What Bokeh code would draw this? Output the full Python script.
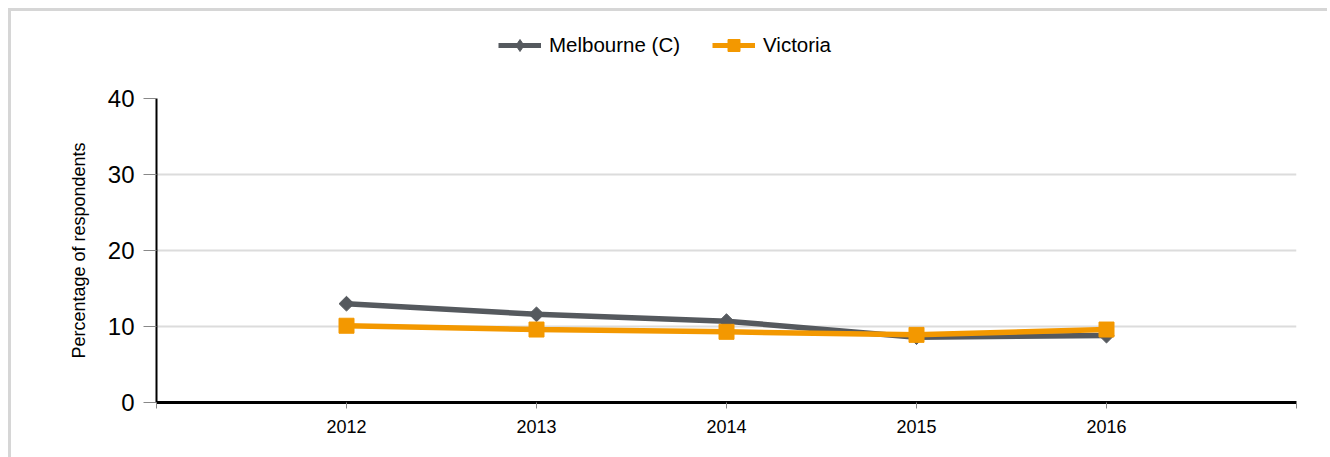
import math
from bokeh.plotting import figure
from bokeh.layouts import column
from bokeh.models import Legend, LegendItem, FixedTicker, ColumnDataSource
from bokeh.embed import file_html
from bokeh.resources import INLINE

years = [2012, 2013, 2014, 2015, 2016]
melbourne = [13.0, 11.6, 10.7, 8.6, 8.8]
victoria = [10.1, 9.6, 9.3, 8.9, 9.6]
y_ticks = [0, 10, 20, 30, 40]
x_ticks = [2011, 2012, 2013, 2014, 2015, 2016, 2017]

GREY = "#55595e"
ORANGE = "#f39800"
FONT = "Liberation Sans"
BORDER = "3px solid #d6d6d6"

src = ColumnDataSource(dict(x=years, m=melbourne, v=victoria))

# ---- legend strip (its own canvas, so the legend is not clipped) ----
lg = figure(width=1319, height=69, output_backend="svg", toolbar_location=None,
            x_range=(0, 1), y_range=(0, 1), x_axis_type=None, y_axis_type=None,
            min_border_left=0, min_border_right=0, min_border_top=0, min_border_bottom=0)
lg.styles = {"border-top": BORDER, "border-left": BORDER}
lg.outline_line_color = None
lg.grid.visible = False
g_lm = lg.line("x", "m", source=src, line_color=GREY, line_width=5)
g_sm = lg.scatter("x", "m", source=src, marker="diamond", size=12, fill_color=GREY, line_color=GREY)
g_lv = lg.line("x", "v", source=src, line_color=ORANGE, line_width=5)
g_sv = lg.scatter("x", "v", source=src, marker="square", size=12, fill_color=ORANGE, line_color=ORANGE)
legend = Legend(items=[LegendItem(label="Melbourne (C)", renderers=[g_lm, g_sm]),
                       LegendItem(label="Victoria", renderers=[g_lv, g_sv])],
                orientation="horizontal", location=(342, 20),
                label_text_font=FONT, label_text_font_size="20.5px",
                label_text_color="black", glyph_width=43, glyph_height=30,
                label_standoff=8, spacing=32, border_line_color=None,
                background_fill_alpha=0, padding=2, margin=0)
lg.add_layout(legend, "center")

# ---- main chart ----
p = figure(width=1319, height=380, output_backend="svg", toolbar_location=None,
           x_range=(2011, 2017), y_range=(0, 40),
           min_border_left=145, min_border_right=34, min_border_top=21, min_border_bottom=55)
p.styles = {"border-left": BORDER}
p.outline_line_color = None
p.background_fill_color = "white"

lm = p.line("x", "m", source=src, line_color=GREY, line_width=5.5)
sm = p.scatter("x", "m", source=src, marker="square", angle=math.pi / 4, size=10.5,
               fill_color=GREY, line_color=GREY)
lv = p.line("x", "v", source=src, line_color=ORANGE, line_width=5.5)
sv = p.scatter("x", "v", source=src, marker="square", size=15, fill_color=ORANGE, line_color=ORANGE)

p.xgrid.grid_line_color = None
p.ygrid.grid_line_color = "#dcdcdc"
p.ygrid.grid_line_width = 2
p.ygrid.ticker = FixedTicker(ticks=y_ticks)

p.yaxis.ticker = FixedTicker(ticks=y_ticks)
p.yaxis.axis_line_color = "black"
p.yaxis.axis_line_width = 2
p.yaxis.major_tick_line_color = "#888888"
p.yaxis.major_tick_out = 13
p.yaxis.major_tick_in = 0
p.yaxis.minor_tick_line_color = None
p.yaxis.major_label_text_font = FONT
p.yaxis.major_label_text_font_size = "24px"
p.yaxis.major_label_text_color = "black"
p.yaxis.major_label_standoff = 9
p.yaxis.axis_label = "Percentage of respondents"
p.yaxis.axis_label_text_font = FONT
p.yaxis.axis_label_text_font_size = "18px"
p.yaxis.axis_label_text_font_style = "normal"
p.yaxis.axis_label_text_color = "black"
p.yaxis.axis_label_standoff = 16

p.xaxis.ticker = FixedTicker(ticks=x_ticks)
p.xaxis.major_label_overrides = {2011: "", 2017: ""}
p.xaxis.axis_line_color = "black"
p.xaxis.axis_line_width = 3
p.xaxis.major_tick_line_color = "#888888"
p.xaxis.major_tick_out = 6
p.xaxis.major_tick_in = 0
p.xaxis.minor_tick_line_color = None
p.xaxis.major_label_text_font = FONT
p.xaxis.major_label_text_font_size = "18px"
p.xaxis.major_label_text_color = "black"
p.xaxis.major_label_standoff = 11

layout = column(lg, p, spacing=0, styles={"padding": "8px 0 0 8px", "background": "white"})
open("out.html", "w").write(file_html(layout, INLINE))
